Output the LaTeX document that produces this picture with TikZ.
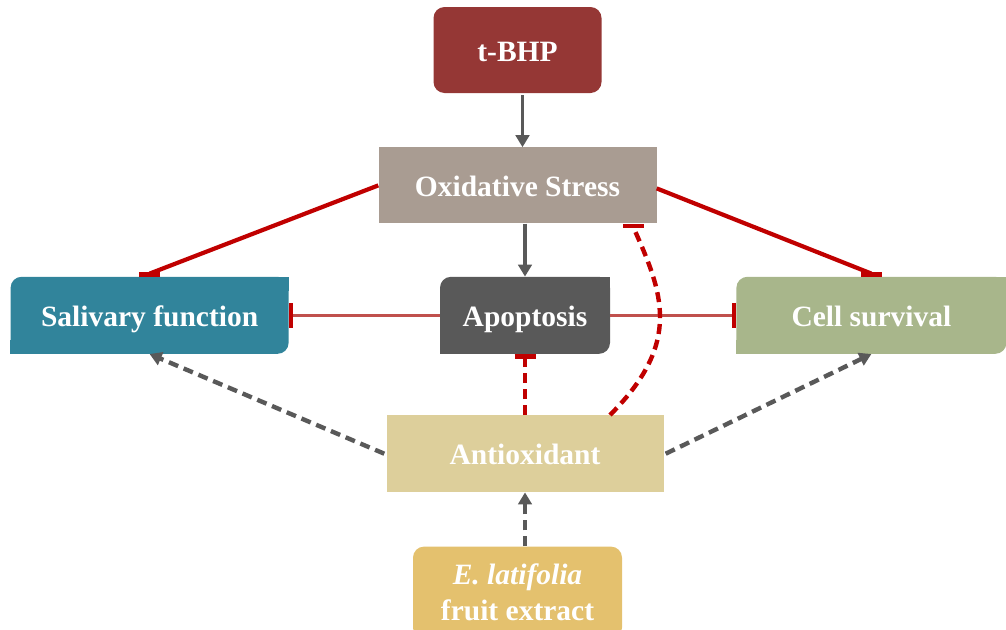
\documentclass[tikz,border=0pt]{standalone}
\usepackage{fontspec}
\setmainfont{Liberation Serif}
\usepackage{xcolor}
\usetikzlibrary{arrows.meta, positioning}

\definecolor{tbhpred}{HTML}{953735}
\definecolor{oxgray}{HTML}{A99C92}
\definecolor{salblue}{HTML}{31849B}
\definecolor{apogray}{HTML}{595959}
\definecolor{cellgreen}{HTML}{A8B68B}
\definecolor{antibeige}{HTML}{DDCF9B}
\definecolor{extgold}{HTML}{E4C16E}
\definecolor{inhred}{HTML}{C00000}
\definecolor{inhlight}{HTML}{C0504D}
\definecolor{actgray}{HTML}{595959}

\begin{document}
\begin{tikzpicture}[
    x=1pt, y=-1pt,
    box/.style={rectangle, text=white, inner sep=0pt, align=center, font=\fontsize{29.5}{36}\selectfont\bfseries},
    oneline/.style={text height=22pt, text depth=0pt},
    roundbox/.style={box, rounded corners=11pt},
    line/.style={draw=actgray, line width=3.6pt, -{Triangle[length=12pt, width=13.5pt]}},
    dline/.style={line, line width=4.4pt, dash pattern=on 10pt off 6pt},
    block/.style={draw=inhred, line width=4.2pt, -{Bar[width=21pt, line width=4.8pt]}},
    thinblock/.style={draw=inhlight, line width=3.6pt, -{Bar[width=25pt, line width=4.5pt, color=inhred]}},
    dblock/.style={block, line width=4.4pt, dash pattern=on 10pt off 6pt}
]
    \useasboundingbox (0,0) rectangle (1006,629);

    % Nodes
    \node [roundbox, oneline, fill=tbhpred, minimum width=168pt, minimum height=86pt] (tbhp) at (517.5,50) {t-BHP};
    \node [box, oneline, fill=oxgray, minimum width=278pt, minimum height=76pt, below=54pt of tbhp] (oxi) {Oxidative Stress};
    \node [roundbox, oneline, fill=apogray, minimum width=170pt, minimum height=77pt, below=53pt of oxi, xshift=7.5pt] (apo) {Apoptosis};
    \node [roundbox, oneline, fill=salblue, minimum width=278pt, minimum height=77pt, left=151pt of apo] (sal) {Salivary function};
    \node [roundbox, oneline, fill=cellgreen, minimum width=270pt, minimum height=77pt, right=126pt of apo] (cell) {Cell survival};
    \node [box, oneline, fill=antibeige, minimum width=277pt, minimum height=77pt, below=61pt of apo] (anti) {Antioxidant};
    \node [roundbox, fill=extgold, minimum width=209pt, minimum height=92pt, below=54pt of anti, xshift=-7.5pt] (ext) {\textit{E. latifolia}\\fruit extract};

    % square corners (top right, bottom left)
    \foreach \n/\c in {sal/salblue, apo/apogray, cell/cellgreen} {
        \fill [\c] (\n.north east) rectangle ++(-14,14);
        \fill [\c] (\n.south west) rectangle ++(14,-14);
    }

    % Paths
    \path [line] ([xshift=5pt, yshift=-2pt]tbhp.south) -- ([xshift=5pt]oxi.north);
    \path [line] (oxi.south -| apo) -- (apo.north);
    \path [block] (oxi.west) -- ([yshift=3pt]sal.north) -- (sal.north);
    \path [block] ([yshift=-3pt]oxi.east) -- ([yshift=3pt]cell.north) -- (cell.north);
    \path [thinblock] (apo.west) -- (sal.east);
    \path [thinblock] (apo.east) -- (cell.west);
    \path [dblock] (anti.north) -- (apo.south);
    \path [dblock] ([xshift=85pt]anti.north) .. controls +(73,-73) and +(29,65) .. ([xshift=116pt, yshift=-4pt]oxi.south) -- ([xshift=116pt]oxi.south);
    \path [dline] ([xshift=-2pt]anti.west) -- (sal.south);
    \path [dline] ([xshift=2pt]anti.east) -- (cell.south);
    \path [dline] (ext.north -| anti) -- (anti.south);
\end{tikzpicture}
\end{document}
